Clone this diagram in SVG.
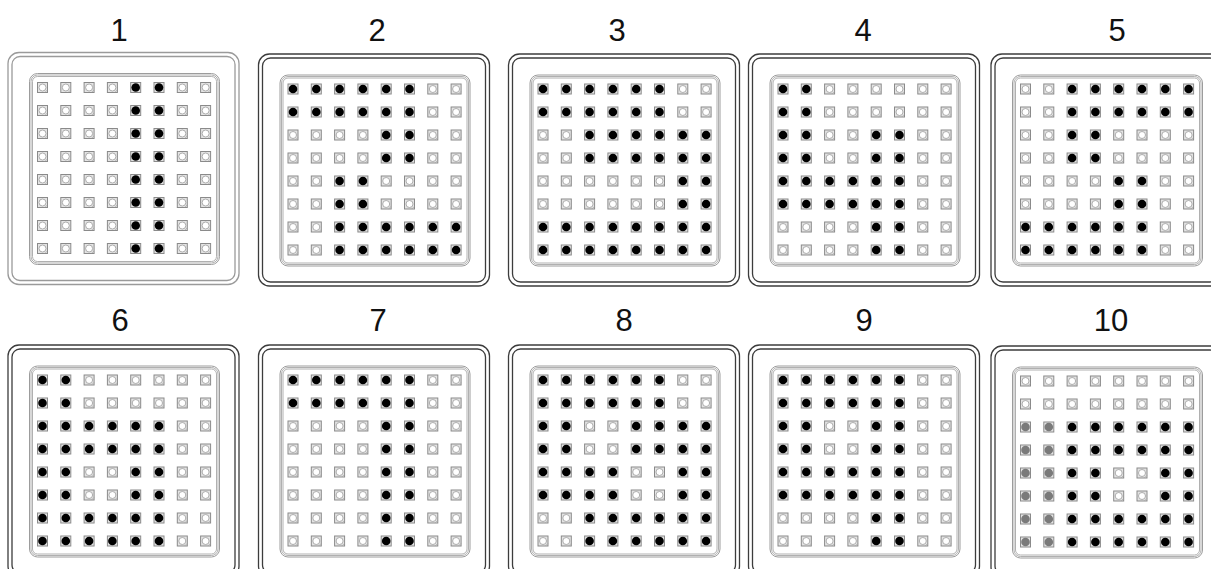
<svg xmlns="http://www.w3.org/2000/svg" xmlns:xlink="http://www.w3.org/1999/xlink" width="1211" height="569" viewBox="0 0 1211 569">
<style>
.lbl{font-family:"Liberation Sans","Open Sans",Arial,sans-serif;font-size:31px;fill:#111;text-anchor:middle}
.sq{fill:#e4e4e4;stroke:#8a8a8a;stroke-width:1}
.co{fill:#fff;stroke:#9a9a9a;stroke-width:0.8}
.ha{stroke:#9a9a9a;stroke-width:0.6}
.fr{fill:none;stroke:currentColor;stroke-width:1.3}
.lf{fill:none;stroke:#9c9c9c}
</style>
<defs>
<g id="frame">
<rect class="fr" x="-34.5" y="-35" width="231" height="232" rx="11"/>
<rect class="fr" x="-30.5" y="-31" width="223" height="224" rx="8"/>
<rect class="lf" x="-13" y="-14" width="190" height="191" rx="8" stroke-width="1"/>
<rect class="lf" x="-11.5" y="-12.5" width="187" height="188" rx="6.5" stroke-width="0.8"/>
<rect class="lf" x="-10" y="-11" width="184" height="185" rx="5" stroke-width="0.8"/>
</g>
<g id="n"><rect class="sq" x="-5" y="-5" width="10" height="10"/><circle class="co" r="3.5"/><line class="ha" x1="2.5" y1="4.8" x2="4.8" y2="2.5"/></g>
<g id="f"><rect class="sq" x="-5" y="-5" width="10" height="10"/><circle r="4.3" fill="#000"/></g>
<g id="g"><rect class="sq" x="-5" y="-5" width="10" height="10"/><circle r="4.3" fill="#7a7a7a"/></g>
<!-- row patterns -->
<g id="rA"><use href="#n" x="0"/><use href="#n" x="23.3"/><use href="#n" x="46.6"/><use href="#n" x="69.9"/><use href="#f" x="93.2"/><use href="#f" x="116.5"/><use href="#n" x="139.8"/><use href="#n" x="163.1"/></g>
<g id="rB"><use href="#f" x="0"/><use href="#f" x="23.3"/><use href="#f" x="46.6"/><use href="#f" x="69.9"/><use href="#f" x="93.2"/><use href="#f" x="116.5"/><use href="#n" x="139.8"/><use href="#n" x="163.1"/></g>
<g id="rC"><use href="#n" x="0"/><use href="#n" x="23.3"/><use href="#f" x="46.6"/><use href="#f" x="69.9"/><use href="#n" x="93.2"/><use href="#n" x="116.5"/><use href="#n" x="139.8"/><use href="#n" x="163.1"/></g>
<g id="rD"><use href="#n" x="0"/><use href="#n" x="23.3"/><use href="#f" x="46.6"/><use href="#f" x="69.9"/><use href="#f" x="93.2"/><use href="#f" x="116.5"/><use href="#f" x="139.8"/><use href="#f" x="163.1"/></g>
<g id="rE"><use href="#n" x="0"/><use href="#n" x="23.3"/><use href="#n" x="46.6"/><use href="#n" x="69.9"/><use href="#n" x="93.2"/><use href="#n" x="116.5"/><use href="#f" x="139.8"/><use href="#f" x="163.1"/></g>
<g id="rF"><use href="#f" x="0"/><use href="#f" x="23.3"/><use href="#f" x="46.6"/><use href="#f" x="69.9"/><use href="#f" x="93.2"/><use href="#f" x="116.5"/><use href="#f" x="139.8"/><use href="#f" x="163.1"/></g>
<g id="rG"><use href="#f" x="0"/><use href="#f" x="23.3"/><use href="#n" x="46.6"/><use href="#n" x="69.9"/><use href="#n" x="93.2"/><use href="#n" x="116.5"/><use href="#n" x="139.8"/><use href="#n" x="163.1"/></g>
<g id="rH"><use href="#f" x="0"/><use href="#f" x="23.3"/><use href="#n" x="46.6"/><use href="#n" x="69.9"/><use href="#f" x="93.2"/><use href="#f" x="116.5"/><use href="#n" x="139.8"/><use href="#n" x="163.1"/></g>
<g id="rI"><use href="#n" x="0"/><use href="#n" x="23.3"/><use href="#n" x="46.6"/><use href="#n" x="69.9"/><use href="#n" x="93.2"/><use href="#n" x="116.5"/><use href="#n" x="139.8"/><use href="#n" x="163.1"/></g>
<g id="rJ"><use href="#g" x="0"/><use href="#g" x="23.3"/><use href="#f" x="46.6"/><use href="#f" x="69.9"/><use href="#f" x="93.2"/><use href="#f" x="116.5"/><use href="#f" x="139.8"/><use href="#f" x="163.1"/></g>
<g id="rK"><use href="#g" x="0"/><use href="#g" x="23.3"/><use href="#f" x="46.6"/><use href="#f" x="69.9"/><use href="#n" x="93.2"/><use href="#n" x="116.5"/><use href="#f" x="139.8"/><use href="#f" x="163.1"/></g>
<g id="rL"><use href="#f" x="0"/><use href="#f" x="23.3"/><use href="#n" x="46.6"/><use href="#n" x="69.9"/><use href="#f" x="93.2"/><use href="#f" x="116.5"/><use href="#f" x="139.8"/><use href="#f" x="163.1"/></g>
<g id="rM"><use href="#f" x="0"/><use href="#f" x="23.3"/><use href="#f" x="46.6"/><use href="#f" x="69.9"/><use href="#n" x="93.2"/><use href="#n" x="116.5"/><use href="#f" x="139.8"/><use href="#f" x="163.1"/></g>
</defs>
<rect width="1211" height="569" fill="#fff"/>

<g id="panel-1">
<text class="lbl" x="119" y="41">1</text>
<g transform="translate(42.5,87.5)" style="color:#9a9a9a">
<use href="#frame"/>
<use href="#rA" y="0"/><use href="#rA" y="23"/><use href="#rA" y="46"/><use href="#rA" y="69"/><use href="#rA" y="92"/><use href="#rA" y="115"/><use href="#rA" y="138"/><use href="#rA" y="161"/>
</g>
</g>

<g id="panel-2">
<text class="lbl" x="377" y="41">2</text>
<g transform="translate(293,89)" style="color:#3c3c3c">
<use href="#frame"/>
<use href="#rB" y="0"/><use href="#rB" y="23"/><use href="#rA" y="46"/><use href="#rA" y="69"/><use href="#rC" y="92"/><use href="#rC" y="115"/><use href="#rD" y="138"/><use href="#rD" y="161"/>
</g>
</g>

<g id="panel-3">
<text class="lbl" x="617" y="41">3</text>
<g transform="translate(543,89)" style="color:#3c3c3c">
<use href="#frame"/>
<use href="#rB" y="0"/><use href="#rB" y="23"/><use href="#rD" y="46"/><use href="#rD" y="69"/><use href="#rE" y="92"/><use href="#rE" y="115"/><use href="#rF" y="138"/><use href="#rF" y="161"/>
</g>
</g>

<g id="panel-4">
<text class="lbl" x="863" y="41">4</text>
<g transform="translate(783,89)" style="color:#3c3c3c">
<use href="#frame"/>
<use href="#rG" y="0"/><use href="#rG" y="23"/><use href="#rH" y="46"/><use href="#rH" y="69"/><use href="#rB" y="92"/><use href="#rB" y="115"/><use href="#rA" y="138"/><use href="#rA" y="161"/>
</g>
</g>

<g id="panel-5">
<text class="lbl" x="1117" y="41">5</text>
<g transform="translate(1025.5,89)" style="color:#3c3c3c">
<use href="#frame"/>
<use href="#rD" y="0"/><use href="#rD" y="23"/><use href="#rC" y="46"/><use href="#rC" y="69"/><use href="#rA" y="92"/><use href="#rA" y="115"/><use href="#rB" y="138"/><use href="#rB" y="161"/>
</g>
</g>

<g id="panel-6">
<text class="lbl" x="120" y="331">6</text>
<g transform="translate(42.5,380)" style="color:#3c3c3c">
<use href="#frame"/>
<use href="#rG" y="0"/><use href="#rG" y="23"/><use href="#rB" y="46"/><use href="#rB" y="69"/><use href="#rH" y="92"/><use href="#rH" y="115"/><use href="#rB" y="138"/><use href="#rB" y="161"/>
</g>
</g>

<g id="panel-7">
<text class="lbl" x="378" y="331">7</text>
<g transform="translate(293,380)" style="color:#3c3c3c">
<use href="#frame"/>
<use href="#rB" y="0"/><use href="#rB" y="23"/><use href="#rA" y="46"/><use href="#rA" y="69"/><use href="#rA" y="92"/><use href="#rA" y="115"/><use href="#rA" y="138"/><use href="#rA" y="161"/>
</g>
</g>

<g id="panel-8">
<text class="lbl" x="624" y="331">8</text>
<g transform="translate(543,380)" style="color:#3c3c3c">
<use href="#frame"/>
<use href="#rB" y="0"/><use href="#rB" y="23"/><use href="#rL" y="46"/><use href="#rL" y="69"/><use href="#rM" y="92"/><use href="#rM" y="115"/><use href="#rD" y="138"/><use href="#rD" y="161"/>
</g>
</g>

<g id="panel-9">
<text class="lbl" x="864" y="331">9</text>
<g transform="translate(783,380)" style="color:#3c3c3c">
<use href="#frame"/>
<use href="#rB" y="0"/><use href="#rB" y="23"/><use href="#rH" y="46"/><use href="#rH" y="69"/><use href="#rB" y="92"/><use href="#rB" y="115"/><use href="#rA" y="138"/><use href="#rA" y="161"/>
</g>
</g>

<g id="panel-10">
<text class="lbl" x="1111" y="331">10</text>
<g transform="translate(1025.5,381)" style="color:#3c3c3c">
<use href="#frame"/>
<use href="#rI" y="0"/><use href="#rI" y="23"/><use href="#rJ" y="46"/><use href="#rJ" y="69"/><use href="#rK" y="92"/><use href="#rK" y="115"/><use href="#rJ" y="138"/><use href="#rJ" y="161"/>
</g>
</g>

<g id="connectors"></g>
</svg>
